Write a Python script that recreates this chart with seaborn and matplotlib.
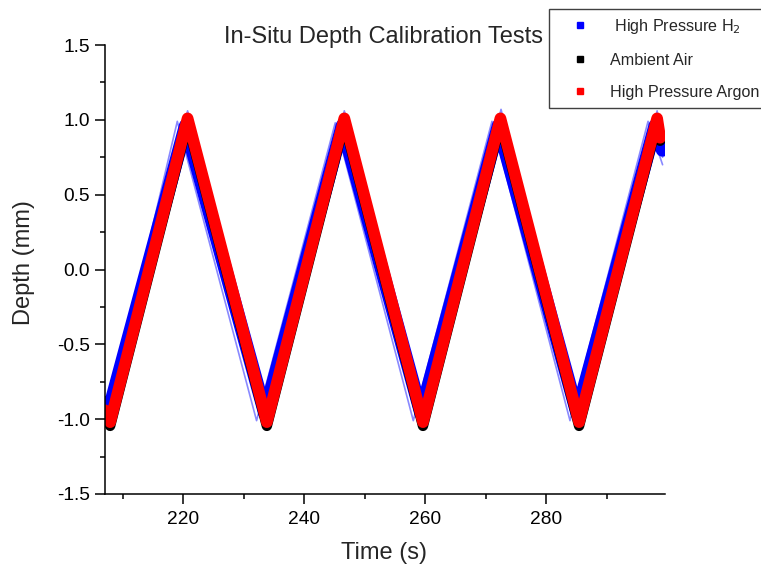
import numpy as np
import pandas as pd
import matplotlib
matplotlib.use("Agg")
import matplotlib.pyplot as plt
from matplotlib.lines import Line2D
from matplotlib.ticker import MultipleLocator, FormatStrFormatter
import seaborn as sns

# ---- data (vertex times in s, depth in mm) ----
argon_t = [207.0, 207.9, 220.7, 233.8, 246.6, 259.6, 272.4, 285.4, 298.3, 298.8]
argon_d = [-0.94, -1.02, 1.01, -1.02, 1.01, -1.02, 1.01, -1.02, 1.01, 0.88]

air_t = [207.0, 207.9, 220.7, 233.8, 246.6, 259.6, 272.4, 285.4, 298.3, 298.8]
air_d = [-0.97, -1.045, 0.98, -1.045, 0.98, -1.045, 0.98, -1.045, 0.98, 0.86]

h2_t = [207.0, 207.6, 220.4, 233.5, 246.3, 259.3, 272.1, 285.1, 298.0, 299.2]
h2_d = [-0.89, -0.96, 0.96, -0.96, 0.96, -0.96, 0.96, -0.96, 0.96, 0.80]

h2_lo_t = [207.0, 207.4, 219.0, 232.1, 245.1, 258.0, 271.0, 283.9, 296.8, 299.2]
h2_lo_d = [-0.92, -1.0, 0.99, -1.01, 0.98, -1.01, 0.99, -1.01, 0.99, 0.70]

h2_hi_t = [207.0, 207.9, 220.7, 233.9, 246.6, 259.6, 272.5, 285.5, 298.3, 299.2]
h2_hi_d = [-0.99, -1.07, 1.06, -1.07, 1.06, -1.07, 1.07, -1.07, 1.06, 0.75]

labels = [" High Pressure H$_2$", "Ambient Air", "High Pressure Argon"]
colors = ["#0000ff", "#000000", "#ff0000"]

sns.set_style("ticks")
plt.rcParams["font.family"] = ["Liberation Sans", "DejaVu Sans"]

fig = plt.figure(figsize=(7.61, 5.68), dpi=100)
ax = fig.add_axes([105 / 761, 1 - 494 / 568, (665 - 105) / 761, (494 - 45) / 568])

def frame(t, d):
    return pd.DataFrame({"t": t, "d": d})

kw = dict(x="t", y="d", sort=False, estimator=None, ax=ax, legend=False)
sns.lineplot(data=frame(h2_lo_t, h2_lo_d), color="#4a4aff", lw=1.2, alpha=0.65, **kw)
sns.lineplot(data=frame(h2_hi_t, h2_hi_d), color="#4a4aff", lw=1.2, alpha=0.65, **kw)
sns.lineplot(data=frame(h2_t, h2_d), color=colors[0], lw=10.0, **kw)
sns.lineplot(data=frame(air_t, air_d), color=colors[1], lw=7.5, **kw)
sns.lineplot(data=frame(argon_t, argon_d), color=colors[2], lw=8.4, **kw)

ax.set_xlim(207.05, 299.6)
ax.set_ylim(-1.5, 1.5)
ax.xaxis.set_major_locator(MultipleLocator(20))
ax.xaxis.set_minor_locator(MultipleLocator(10))
ax.yaxis.set_major_locator(MultipleLocator(0.5))
ax.yaxis.set_minor_locator(MultipleLocator(0.25))
ax.yaxis.set_major_formatter(FormatStrFormatter("%.1f"))

sns.despine(ax=ax)
for s in ("left", "bottom"):
    ax.spines[s].set_linewidth(1.1)
    ax.spines[s].set_color("black")
ax.tick_params(which="major", direction="out", length=7.2, width=1.1, labelsize=13.8, colors="black")
ax.tick_params(which="minor", direction="out", length=3.8, width=1.1, colors="black")
ax.tick_params(axis="y", which="major", pad=3.5)
ax.tick_params(axis="x", which="major", pad=5.2)

ax.set_xlabel("Time (s)", fontsize=17)
ax.set_ylabel("Depth (mm)", fontsize=17)
ax.xaxis.label.set_va("center")
ax.yaxis.label.set_va("center")
ax.xaxis.set_label_coords((384 - 105) / 560, (494 - 553) / 449)
ax.yaxis.label.set_ha("center")
ax.yaxis.set_label_coords((24 - 105) / 560, (494 - 263) / 449)
ax.set_facecolor("white")

fig.text(383 / 761, 1 - 37 / 568, "In-Situ Depth Calibration Tests", fontsize=17,
         ha="center", va="center")

handles = [Line2D([], [], marker="s", ls="none", color=c, markersize=4.3) for c in colors]
leg = ax.legend(handles, labels, loc="upper left", bbox_to_anchor=(549 / 761, 1 - 9 / 568),
                bbox_transform=fig.transFigure, borderaxespad=0, fontsize=11.6,
                handlelength=2.8, handletextpad=0.5, labelspacing=1.05, borderpad=0.5,
                fancybox=False, framealpha=1, edgecolor="#404040")
leg.get_frame().set_linewidth(1.0)

fig.savefig("out.png", dpi=100)
